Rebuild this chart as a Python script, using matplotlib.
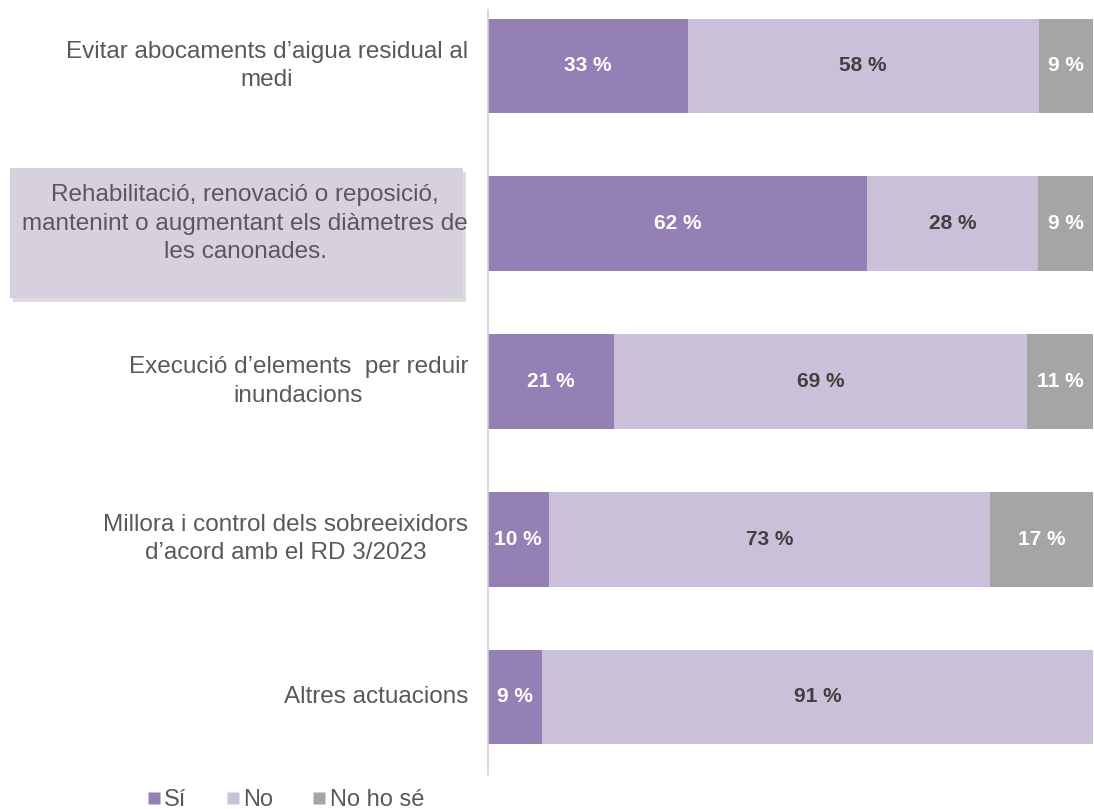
import matplotlib

matplotlib.use("Agg")
import matplotlib.pyplot as plt  # noqa: E402
from matplotlib.patches import FancyBboxPatch  # noqa: E402
from matplotlib.lines import Line2D  # noqa: E402

plt.rcParams["font.family"] = ["Liberation Sans", "DejaVu Sans"]

categories = [
    "Evitar abocaments d’aigua residual al\nmedi",
    "Rehabilitació, renovació o reposició,\nmantenint o augmentant els diàmetres de\nles canonades.",
    "Execució d’elements  per reduir\ninundacions",
    "Millora i control dels sobreeixidors\nd’acord amb el RD 3/2023",
    "Altres actuacions",
]
si = [33, 62, 21, 10, 9]
no = [58, 28, 69, 73, 91]
no_ho_se = [9, 9, 11, 17, 0]
series_names = ["Sí", "No", "No ho sé"]

COLORS = ["#9580b5", "#cbc0da", "#a5a5a5"]
TEXT_COLORS = ["white", "#404040", "white"]
LABEL_GREY = "#595959"

fig = plt.figure(figsize=(10.94, 8.09), dpi=100)
ax = fig.add_axes([488 / 1094, 34 / 809, 605 / 1094, 765 / 809])
ax.patch.set_visible(False)

series = [si, no, no_ho_se]
for i in range(len(categories)):
    total = si[i] + no[i] + no_ho_se[i]
    left = 0.0
    for s, vals in enumerate(series):
        v = vals[i]
        if v == 0:
            continue
        w = v / total * 100
        ax.barh(i, w, left=left, height=0.6, color=COLORS[s], edgecolor="none")
        ax.text(left + w / 2, i, f"{v} %", ha="center", va="center",
                color=TEXT_COLORS[s], fontsize=15, fontweight="bold")
        left += w

ax.set_xlim(0, 100)
ax.set_ylim(4 + 78 / 157.75, -56 / 157.75)
ax.set_xticks([])
ax.set_yticks([])
for side in ["top", "right", "bottom"]:
    ax.spines[side].set_visible(False)
ax.spines["left"].set_color("#d0d0d0")
ax.spines["left"].set_linewidth(1.2)

# caixa ressaltada darrere la segona categoria
shadow = FancyBboxPatch((13 / 1094, (809 - 302) / 809), 453 / 1094, 130 / 809,
                        boxstyle="square,pad=0", transform=fig.transFigure,
                        facecolor="#cfcfcf", edgecolor="none", alpha=0.7, zorder=-2)
box = FancyBboxPatch((10 / 1094, (809 - 298) / 809), 453 / 1094, 130 / 809,
                     boxstyle="square,pad=0", transform=fig.transFigure,
                     facecolor="#d6d0df", edgecolor="none", zorder=-1)
fig.patches.extend([shadow, box])

for i, cat in enumerate(categories):
    ax.text(-3.3, i, cat, ha="right", va="center", multialignment="center",
            color=LABEL_GREY, fontsize=17.5, linespacing=1.38,
            clip_on=False, zorder=3)

handles = [Line2D([], [], marker="s", linestyle="none", markersize=8.5,
                  markerfacecolor=c, markeredgecolor="none") for c in COLORS]
fig.legend(handles, series_names, loc="center left",
           bbox_to_anchor=(136 / 1094, 1 - 800 / 809), ncol=3, frameon=False,
           fontsize=17, handletextpad=0.1, columnspacing=1.6,
           handlelength=0.7, labelcolor=LABEL_GREY, borderaxespad=0)

fig.savefig("out.png", dpi=100)
